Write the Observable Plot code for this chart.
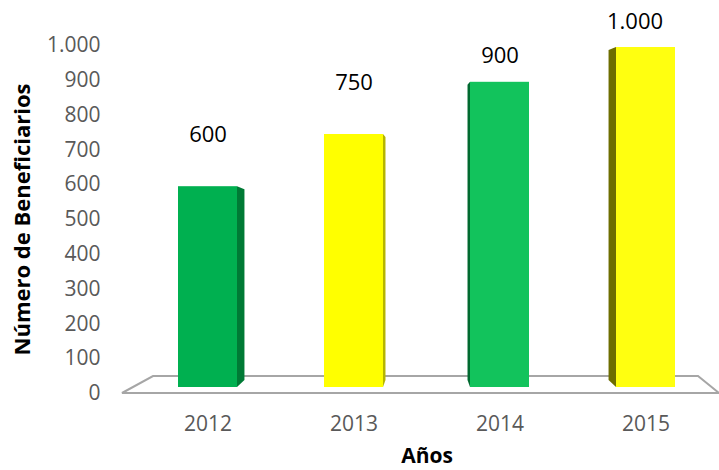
<!DOCTYPE html>
<html>
<head>
<meta charset="utf-8">
<script src="https://cdn.jsdelivr.net/npm/d3@7"></script>
<script src="https://cdn.jsdelivr.net/npm/@observablehq/plot@0.6"></script>
<style>
  html, body { margin: 0; padding: 0; background: #fff; }
</style>
</head>
<body>
<div id="chart"></div>
<script>
// ---- data ----
const years = ["2012", "2013", "2014", "2015"];
const beneficiarios = [600, 750, 900, 1000];
const yTicks = [0, 100, 200, 300, 400, 500, 600, 700, 800, 900, 1000];
const yTitle = "Número de Beneficiarios";
const xTitle = "Años";

// ---- styles ----
const barColors = ["#00b050", "#ffff00", "#12c35c", "#ffff10"];
const sideColors = ["#007a35", "#b5b500", "#006a30", "#6e6e00"];

const rows = years.map((year, i) => ({year, value: beneficiarios[i], color: barColors[i], side: sideColors[i]}));

const esFormat = d3.formatLocale({decimal: ",", thousands: ".", grouping: [3], currency: ["", ""]}).format(",");

// 3D floor + side faces drawn with the plot's own scales
function floorMark(index, scales) {
  const {x, y} = scales;
  const [r0, r1] = x.range();
  const y0 = y(0);
  const g = d3.create("svg:g");
  g.append("path")
    .attr("d", `M${r0 - 12},${y0}L${r1},${y0}L${r1 - 21},${y0 - 17}L${r0 + 19},${y0 - 17}Z`)
    .attr("fill", "none")
    .attr("stroke", "#a6a6a6")
    .attr("stroke-width", 2);
  return g.node();
}
function sideMark(index, scales) {
  const {x, y} = scales;
  const [r0, r1] = x.range();
  const vp = (r0 + r1) / 2;
  const bw = x.bandwidth();
  const g = d3.create("svg:g");
  rows.forEach(r => {
    const xl = x(r.year), xc = xl + bw / 2;
    const d = -0.034 * (xc - vp);
    const xe = d > 0 ? xl + bw : xl;
    const yt = y(r.value) + 2, yb = y(0) - 6;
    g.append("path")
      .attr("d", `M${xe},${yt}L${xe + d},${yt + 3}L${xe + d},${yb - 7}L${xe},${yb}Z`)
      .attr("fill", r.side);
  });
  return g.node();
}

const plot = Plot.plot({
  width: 719,
  height: 470,
  marginLeft: 134,
  marginRight: 0,
  marginTop: 45,
  marginBottom: 77,
  style: {fontFamily: "'Open Sans', sans-serif", fontSize: "21px", color: "#595959", background: "#fff"},
  x: {domain: years, paddingInner: 0.599, paddingOuter: 0.29, label: null, tickSize: 0, tickPadding: 23},
  y: {domain: [0, 1000], ticks: yTicks, tickFormat: esFormat, label: null, tickSize: 0, tickPadding: 34},
  marks: [
    floorMark,
    sideMark,
    Plot.barY(rows, {x: "year", y: "value", fill: "color", insetBottom: 6, insetTop: 2}),
    Plot.text(rows.slice(0, 2), {x: "year", y: "value", text: d => esFormat(d.value), dy: -50, fill: "#000", fontSize: 22}),
    Plot.text(rows.slice(2, 3), {x: "year", y: "value", text: d => esFormat(d.value), dy: -24, fill: "#000", fontSize: 22}),
    Plot.text(rows.slice(3, 4), {x: "year", y: "value", text: d => esFormat(d.value), dy: -24, dx: -11, fill: "#000", fontSize: 22}),
    Plot.text([yTitle], {frameAnchor: "left", textAnchor: "middle", dx: -112, rotate: -90, fill: "#000", fontSize: 22, fontWeight: "bold"}),
    Plot.text([xTitle], {frameAnchor: "bottom", textAnchor: "middle", lineAnchor: "bottom", dy: 69, fill: "#000", fontSize: 21, fontWeight: "bold"})
  ]
});
document.getElementById("chart").appendChild(plot);
</script>
</body>
</html>
